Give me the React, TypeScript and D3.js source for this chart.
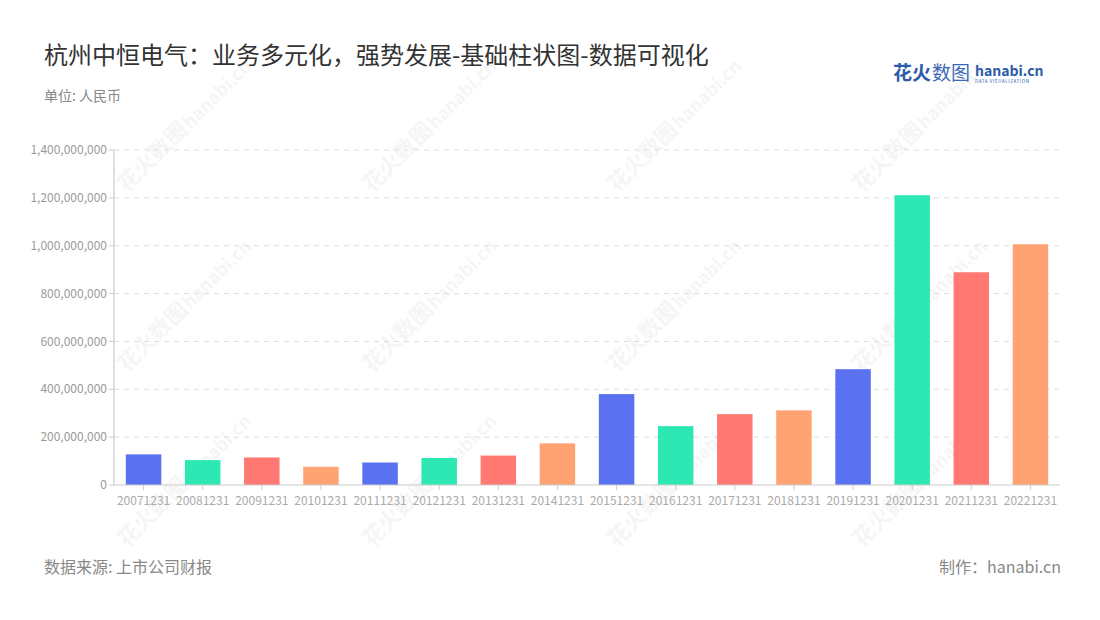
import * as d3 from "d3"

const categories = [
  "20071231", "20081231", "20091231", "20101231", "20111231", "20121231", "20131231", "20141231",
  "20151231", "20161231", "20171231", "20181231", "20191231", "20201231", "20211231", "20221231",
]
const revenue = [
  128000000, 104000000, 115000000, 76000000, 94000000, 113000000, 123000000, 174000000,
  380000000, 246000000, 296000000, 312000000, 484000000, 1211000000, 889000000, 1006000000,
]
const yTicks = [0, 200000000, 400000000, 600000000, 800000000, 1000000000, 1200000000, 1400000000]
const palette = ["#5a72ef", "#2de8b2", "#ff7872", "#ffa372"]

const title = "杭州中恒电气：业务多元化，强势发展-基础柱状图-数据可视化"
const unit = "单位: 人民币"
const source = "数据来源: 上市公司财报"
const credit = "制作：hanabi.cn"

const W = 1100
const H = 620
const left = 114
const right = 1060
const top = 150
const bottom = 485
const font = "'Noto Sans CJK SC', 'Noto Sans', sans-serif"

export default function App() {
  const x = d3.scaleBand<string>().domain(categories).range([left, right]).paddingInner(0.4).paddingOuter(0.2)
  const y = d3.scaleLinear().domain([0, 1400000000]).range([bottom, top])
  const fmt = d3.format(",")

  // faint watermark positions
  const marks: [number, number][] = []
  for (const my of [165, 345, 520]) {
    for (const mx of [155, 400, 645, 890]) marks.push([mx, my])
  }

  return (
    <svg width={W} height={H} style={{ position: "absolute", left: 0, top: 0, fontFamily: font }}>
      <rect width={W} height={H} fill="#fff" />

      {marks.map(([mx, my], i) => (
        <g key={i} transform={`translate(${mx},${my}) rotate(-45)`} opacity={0.045} fill="#333">
          <text x={-40} y={0} fontSize={22} fontWeight="bold">花火数图</text>
          <text x={50} y={0} fontSize={18} fontWeight="bold">hanabi.cn</text>
        </g>
      ))}

      <text x={44} y={64} fontSize={24} fill="#333">{title}</text>
      <text x={44} y={101} fontSize={14} fill="#888">{unit}</text>

      {/* logo */}
      <g>
        <text x={893} y={80} fontSize={19} fontWeight="bold" fill="#2d5ba8">花火</text>
        <text x={932} y={80} fontSize={19} fill="#3a67b5">数图</text>
        <text x={975} y={76} fontSize={14} fontWeight="bold" fill="#2d5ba8">hanabi.cn</text>
        <text x={975} y={83} fontSize={4.5} fill="#2d5ba8" letterSpacing={0.6}>DATA VISUALIZATION</text>
      </g>

      {yTicks.map((t) => (
        <g key={t}>
          {t > 0 && (
            <line x1={left} x2={right} y1={y(t)} y2={y(t)} stroke="#ddd" strokeDasharray="5,5" />
          )}
          <line x1={left - 5} x2={left} y1={y(t)} y2={y(t)} stroke="#ccc" />
          <text x={left - 7} y={y(t)} dy="0.35em" textAnchor="end" fontSize={12} fill="#999">
            {fmt(t)}
          </text>
        </g>
      ))}
      <line x1={left} x2={left} y1={top} y2={bottom} stroke="#ccc" strokeWidth={1.2} />

      {categories.map((c, i) => (
        <rect
          key={c}
          x={x(c)}
          y={y(revenue[i])}
          width={x.bandwidth()}
          height={bottom - y(revenue[i])}
          fill={palette[i % palette.length]}
        />
      ))}

      <line x1={left} x2={right} y1={bottom} y2={bottom} stroke="#ccc" strokeWidth={1.2} />
      {categories.map((c) => {
        const cx = (x(c) ?? 0) + x.bandwidth() / 2
        return (
          <g key={c}>
            <line x1={cx} x2={cx} y1={bottom} y2={bottom + 5} stroke="#ccc" />
            <text x={cx} y={505} textAnchor="middle" fontSize={12} fill="#aaa">{c}</text>
          </g>
        )
      })}

      <text x={44} y={573} fontSize={16} fill="#888">{source}</text>
      <text x={1061} y={573} fontSize={16} fill="#888" textAnchor="end">{credit}</text>
    </svg>
  )
}
